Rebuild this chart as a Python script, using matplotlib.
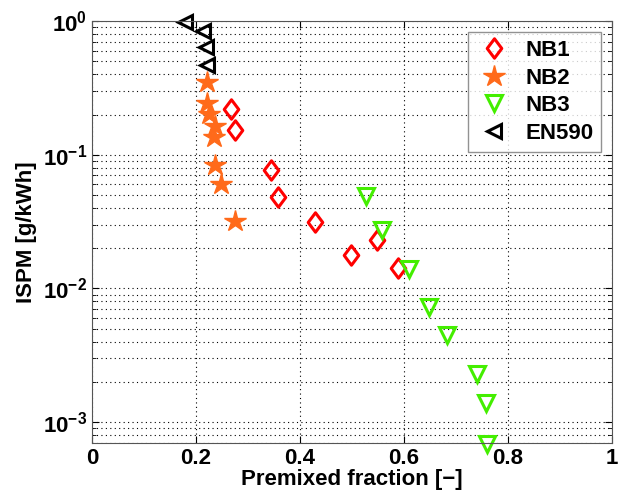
import matplotlib
matplotlib.use("Agg")
import matplotlib.pyplot as plt
from matplotlib.path import Path
from matplotlib.ticker import LogLocator, NullFormatter

plt.rcParams['font.family'] = ['Liberation Sans', 'DejaVu Sans']
plt.rcParams['font.weight'] = 'bold'
plt.rcParams['mathtext.fontset'] = 'custom'
plt.rcParams['mathtext.bf'] = 'Liberation Sans:bold'
plt.rcParams['mathtext.rm'] = 'Liberation Sans:bold'
plt.rcParams['mathtext.default'] = 'bf'

# data
nb1_x = [0.267, 0.275, 0.345, 0.358, 0.429, 0.499, 0.549, 0.588]
nb1_y = [0.22, 0.154, 0.077, 0.048, 0.0315, 0.0179, 0.023, 0.0143]

nb2_x = [0.222, 0.222, 0.226, 0.237, 0.235, 0.237, 0.248, 0.276]
nb2_y = [0.35, 0.243, 0.202, 0.165, 0.135, 0.084, 0.060, 0.0319]

nb3_x = [0.528, 0.558, 0.610, 0.649, 0.683, 0.741, 0.758, 0.760]
nb3_y = [0.049, 0.0272, 0.0141, 0.0073, 0.00449, 0.00231, 0.0014, 0.000687]

en_x = [0.179, 0.213, 0.219, 0.221]
en_y = [0.99, 0.846, 0.641, 0.467]

# matlab-like diamond, a bit wider than matplotlib's thin one
diamond = Path([(0, 1), (0.75, 0), (0, -1), (-0.75, 0), (0, 1)],
               [Path.MOVETO, Path.LINETO, Path.LINETO, Path.LINETO, Path.CLOSEPOLY])

fig = plt.figure(figsize=(6.29, 5.01), dpi=100)
ax = fig.add_axes([0.146, 0.116, 0.827, 0.842])

ax.plot(nb1_x, nb1_y, marker=diamond, ls='none', color='#ff0000', mfc='none', mew=2.2, ms=14, label='NB1', clip_on=False)
ax.plot(nb2_x, nb2_y, '*', color='#ff6a1a', ms=16, label='NB2', clip_on=False)
ax.plot(nb3_x, nb3_y, 'v', color='#44ee00', mfc='none', mew=2.2, ms=11, label='NB3', clip_on=False)
ax.plot(en_x, en_y, '<', color='black', mfc='none', mew=2.2, ms=10, label='EN590', clip_on=False)

ax.set_yscale('log')
ax.set_xlim(0, 1)
ax.set_ylim(7e-4, 1)
ax.set_xticks([0, 0.2, 0.4, 0.6, 0.8, 1])
ax.set_xticklabels(['0', '0.2', '0.4', '0.6', '0.8', '1'])
ax.yaxis.set_major_locator(LogLocator(base=10, numticks=10))
ax.yaxis.set_minor_locator(LogLocator(base=10, subs=range(2, 10), numticks=20))
ax.yaxis.set_minor_formatter(NullFormatter())

ax.grid(True, which='major', linestyle=(0, (1, 3)), color='black', linewidth=0.8)
ax.grid(True, which='minor', axis='y', linestyle=(0, (1, 3)), color='black', linewidth=0.8)
ax.tick_params(which='both', direction='in', top=True, right=True, labelsize=16)
ax.tick_params(which='major', length=5)
ax.tick_params(which='minor', length=3)
for s in ax.spines.values():
    s.set_color('#555555')

ax.set_xlabel('Premixed fraction [\u2212]', fontsize=16, fontweight='bold', labelpad=0)
ax.set_ylabel('ISPM [g/kWh]', fontsize=16, fontweight='bold', labelpad=4)

leg = ax.legend(loc='upper right', prop={'weight': 'bold', 'size': 16},
                fancybox=False, edgecolor='#777777', borderaxespad=0.5,
                handletextpad=0.6, labelspacing=0.3, handlelength=1.6,
                borderpad=0.35)
leg.get_frame().set_linewidth(1)

fig.savefig('out.png', dpi=100)
